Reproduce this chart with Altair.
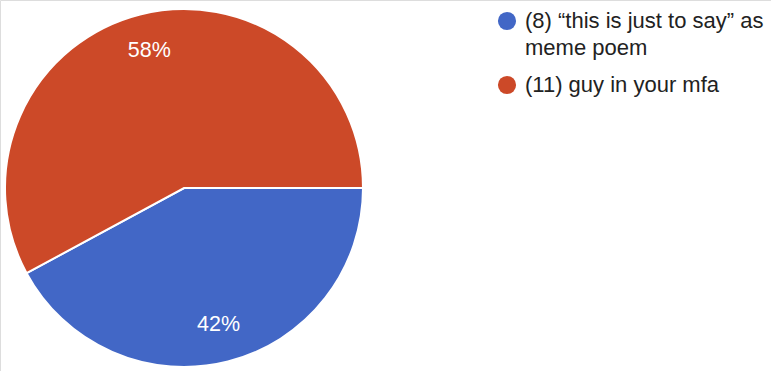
import math
import altair as alt
import pandas as pd

categories = ["(8) “this is just to say” as meme poem", "(11) guy in your mfa"]
legend_labels = ["(8) “this is just to say” as\nmeme poem", "(11) guy in your mfa"]
counts = [8, 11]
colors = ["#4267c6", "#cc4928"]

df = pd.DataFrame({
    "cat": categories,
    "legend": legend_labels,
    "count": counts,
    "order": list(range(len(categories))),
})

CX, CY, R = 184, 188, 179
FONT = "Liberation Sans"

color_scale = alt.Scale(domain=categories, range=colors)
theta_enc = alt.Theta("count:Q", stack=True,
                      scale=alt.Scale(range=[math.pi / 2, math.pi / 2 + 2 * math.pi]))

arc = alt.Chart(df).mark_arc(outerRadius=R, stroke="white", strokeWidth=2).encode(
    theta=theta_enc,
    color=alt.Color("cat:N", scale=color_scale, legend=None),
    order=alt.Order("order:Q"),
    x=alt.value(CX),
    y=alt.value(CY),
)

labels = alt.Chart(df).transform_joinaggregate(
    total="sum(count)"
).transform_calculate(
    pct="round(datum.count / datum.total * 100) + '%'"
).mark_text(radius=141, fontSize=21.5, font=FONT, color="white").encode(
    theta=theta_enc,
    detail="cat:N",
    order=alt.Order("order:Q"),
    text="pct:N",
    x=alt.value(CX),
    y=alt.value(CY),
)

legend_layers = []
sym_y = [21, 85]
txt_y = [28, 92]
for i in range(len(categories)):
    src = alt.Chart(df).transform_filter(alt.datum.order == i)
    legend_layers.append(
        src.mark_point(filled=True, size=330, opacity=1, strokeWidth=0).encode(
            x=alt.value(507), y=alt.value(sym_y[i]),
            color=alt.Color("cat:N", scale=color_scale, legend=None),
        )
    )
    legend_layers.append(
        src.mark_text(align="left", baseline="alphabetic", lineBreak="\n",
                      lineHeight=27, fontSize=22, font=FONT, color="#222222").encode(
            x=alt.value(525), y=alt.value(txt_y[i]), text="legend:N",
        )
    )

chart = alt.layer(arc, labels, *legend_layers).properties(
    width=771, height=371, padding=0,
    autosize=alt.AutoSizeParams(type="none"),
).configure_view(stroke=None).configure(background="white")

chart.save("out.html", embed_options={"renderer": "svg", "actions": False})
